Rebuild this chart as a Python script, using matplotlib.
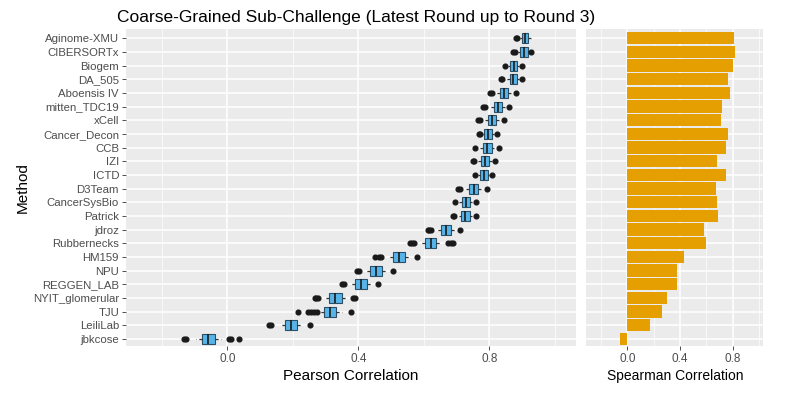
import matplotlib.pyplot as plt
from matplotlib.ticker import MultipleLocator

plt.rcParams['font.family'] = ['Liberation Sans', 'DejaVu Sans']

# Methods, top to bottom
methods = ["Aginome-XMU", "CIBERSORTx", "Biogem", "DA_505", "Aboensis IV",
           "mitten_TDC19", "xCell", "Cancer_Decon", "CCB", "IZI", "ICTD",
           "D3Team", "CancerSysBio", "Patrick", "jdroz", "Rubbernecks",
           "HM159", "NPU", "REGGEN_LAB", "NYIT_glomerular", "TJU",
           "LeiliLab", "jbkcose"]

# Pearson correlation (bootstrap) summary
pearson_med = [0.909, 0.906, 0.875, 0.873, 0.845, 0.826, 0.809, 0.797, 0.794,
               0.787, 0.783, 0.753, 0.729, 0.727, 0.668, 0.621, 0.523, 0.454,
               0.408, 0.330, 0.314, 0.194, -0.058]
pearson_q1 = [0.899, 0.895, 0.864, 0.862, 0.832, 0.813, 0.796, 0.785, 0.781,
              0.774, 0.771, 0.739, 0.716, 0.714, 0.652, 0.604, 0.505, 0.436,
              0.390, 0.311, 0.295, 0.175, -0.077]
pearson_q3 = [0.919, 0.917, 0.886, 0.884, 0.858, 0.839, 0.822, 0.809, 0.807,
              0.800, 0.795, 0.767, 0.742, 0.740, 0.684, 0.638, 0.541, 0.472,
              0.426, 0.349, 0.333, 0.213, -0.039]
pearson_wlo = [0.893, 0.888, 0.858, 0.852, 0.822, 0.803, 0.788, 0.780, 0.772,
               0.766, 0.765, 0.728, 0.708, 0.706, 0.640, 0.590, 0.490, 0.422,
               0.375, 0.295, 0.280, 0.160, -0.095]
pearson_whi = [0.928, 0.922, 0.892, 0.890, 0.866, 0.848, 0.830, 0.814, 0.815,
               0.808, 0.800, 0.776, 0.748, 0.748, 0.695, 0.652, 0.556, 0.485,
               0.440, 0.365, 0.350, 0.228, -0.020]
pearson_out = [[0.882, 0.886], [0.874, 0.880, 0.928], [0.849, 0.900],
               [0.835, 0.840, 0.899], [0.803, 0.808, 0.882],
               [0.780, 0.786, 0.859], [0.766, 0.772, 0.846],
               [0.768, 0.772, 0.823], [0.755, 0.830], [0.750, 0.753, 0.818],
               [0.755, 0.808], [0.704, 0.710, 0.792], [0.695, 0.760],
               [0.688, 0.692, 0.760], [0.612, 0.617, 0.622, 0.712],
               [0.558, 0.564, 0.570, 0.675, 0.682, 0.688],
               [0.450, 0.462, 0.470, 0.580], [0.396, 0.403, 0.505],
               [0.350, 0.355, 0.461], [0.266, 0.272, 0.277, 0.385, 0.390],
               [0.215, 0.245, 0.255, 0.265, 0.275, 0.378],
               [0.128, 0.134, 0.252], [-0.132, -0.126, 0.005, 0.012, 0.034]]

# Spearman correlation per method
spearman = [0.81, 0.82, 0.80, 0.76, 0.775, 0.72, 0.71, 0.76, 0.75, 0.68,
            0.75, 0.67, 0.68, 0.69, 0.58, 0.60, 0.43, 0.38, 0.375, 0.30,
            0.266, 0.17, -0.055]

box_color = "#56B4E9"
bar_color = "#E69F00"
panel_bg = "#EBEBEB"
text_gray = "#4D4D4D"

fig = plt.figure(figsize=(8, 3.95), dpi=100)
ax1 = fig.add_axes([0.1575, 0.124, 0.5625, 0.802])
ax2 = fig.add_axes([0.733, 0.124, 0.221, 0.802])

n = len(methods)
pos = list(range(n))

stats = []
for i in range(n):
    stats.append({"med": pearson_med[i], "q1": pearson_q1[i], "q3": pearson_q3[i],
                  "whislo": pearson_wlo[i], "whishi": pearson_whi[i],
                  "fliers": pearson_out[i]})

ax1.bxp(stats, positions=pos, vert=False, widths=0.72, patch_artist=True,
        showcaps=False,
        boxprops=dict(facecolor=box_color, edgecolor="#2b4f66", linewidth=0.8),
        medianprops=dict(color="#1a1a1a", linewidth=1.2),
        whiskerprops=dict(color="#333333", linewidth=0.9, linestyle=(0, (2.5, 2))),
        flierprops=dict(marker="o", markerfacecolor="#1a1a1a",
                        markeredgecolor="#1a1a1a", markersize=3.4),
        zorder=3)

ax2.barh(pos, spearman, height=0.9, color=bar_color, zorder=3)

for ax, xmax in ((ax1, 1.065), (ax2, 1.03)):
    ax.set_facecolor(panel_bg)
    ax.set_xlim(-0.31, xmax)
    ax.set_ylim(n - 1 + 0.52, -0.66)
    ax.xaxis.set_major_locator(MultipleLocator(0.4))
    ax.xaxis.set_minor_locator(MultipleLocator(0.2))
    ax.grid(True, which="major", color="white", linewidth=1.1, zorder=0)
    ax.grid(True, which="minor", axis="x", color="white", linewidth=0.5, zorder=0)
    ax.set_axisbelow(True)
    for s in ax.spines.values():
        s.set_visible(False)
    ax.tick_params(axis="x", which="major", length=3, width=0.6,
                   color="#333333", labelcolor=text_gray, labelsize=8.5, pad=2)
    ax.tick_params(axis="x", which="minor", length=0)
    ax.set_xticks([0.0, 0.4, 0.8])
    ax.set_xticklabels(["0.0", "0.4", "0.8"])
    ax.set_yticks(pos)

ax1.set_yticklabels(methods)
ax1.tick_params(axis="y", length=3, width=0.6, color="#333333",
                labelcolor=text_gray, labelsize=8.2, pad=2)
ax2.set_yticklabels([])
ax2.tick_params(axis="y", length=0)

ax1.set_xlabel("Pearson Correlation", fontsize=11, labelpad=3)
ax1.set_ylabel("Method", fontsize=11)
ax1.yaxis.set_label_coords(-0.215, 0.5)
ax2.set_xlabel("Spearman Correlation", fontsize=10, labelpad=3)

fig.text(0.445, 0.955, "Coarse-Grained Sub-Challenge (Latest Round up to Round 3)",
         ha="center", va="center", fontsize=12.5)

fig.savefig("out.png", dpi=100)
